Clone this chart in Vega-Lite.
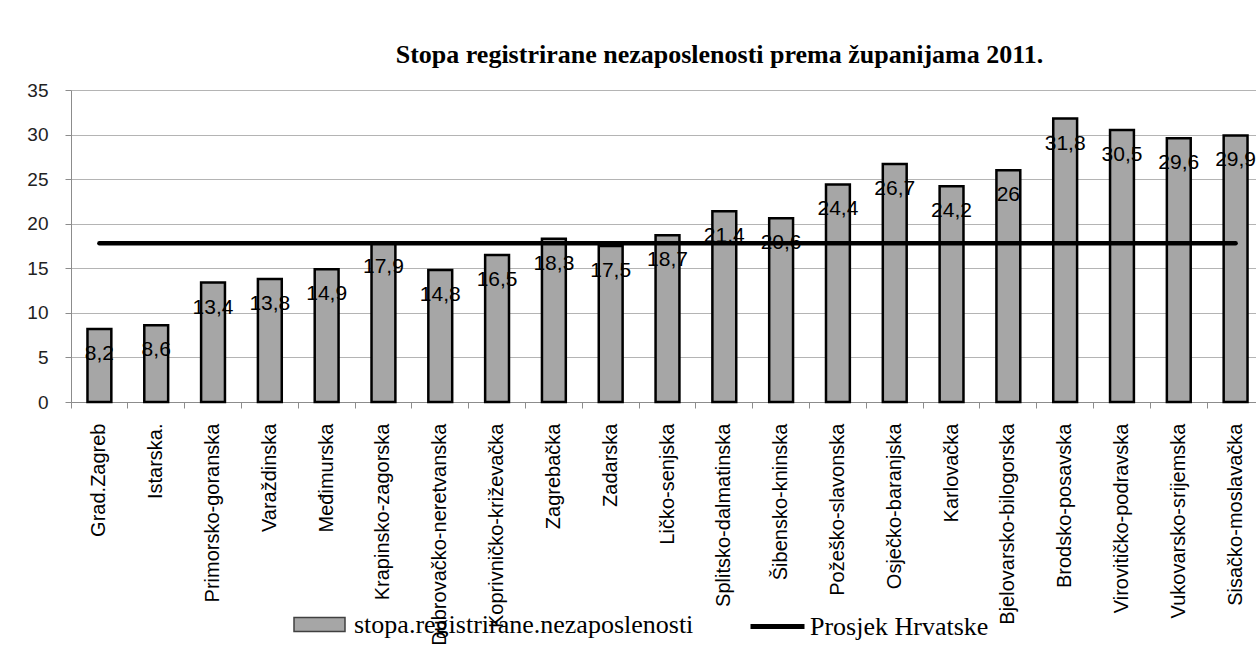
{
  "$schema": "https://vega.github.io/schema/vega-lite/v6.json",
  "autosize": "none",
  "width": 1185,
  "height": 312,
  "padding": {"left": 71, "top": 90, "right": 0, "bottom": 257},
  "background": "white",
  "title": {
    "text": "Stopa registrirane nezaposlenosti prema županijama 2011.",
    "font": "Liberation Serif",
    "fontWeight": "bold",
    "fontSize": 26,
    "color": "black",
    "anchor": "middle",
    "dx": 56,
    "offset": 13
  },
  "config": {
    "locale": {"number": {"decimal": ",", "thousands": ".", "grouping": [3], "currency": ["", " kn"]}},
    "view": {"stroke": null},
    "font": "Liberation Sans"
  },
  "data": {
    "values": [
      {"zupanija": "Grad.Zagreb", "stopa": 8.2, "prosjek": 17.8},
      {"zupanija": "Istarska.", "stopa": 8.6, "prosjek": 17.8},
      {"zupanija": "Primorsko-goranska", "stopa": 13.4, "prosjek": 17.8},
      {"zupanija": "Varaždinska", "stopa": 13.8, "prosjek": 17.8},
      {"zupanija": "Međimurska", "stopa": 14.9, "prosjek": 17.8},
      {"zupanija": "Krapinsko-zagorska", "stopa": 17.9, "prosjek": 17.8},
      {"zupanija": "Dubrovačko-neretvanska", "stopa": 14.8, "prosjek": 17.8},
      {"zupanija": "Koprivničko-križevačka", "stopa": 16.5, "prosjek": 17.8},
      {"zupanija": "Zagrebačka", "stopa": 18.3, "prosjek": 17.8},
      {"zupanija": "Zadarska", "stopa": 17.5, "prosjek": 17.8},
      {"zupanija": "Ličko-senjska", "stopa": 18.7, "prosjek": 17.8},
      {"zupanija": "Splitsko-dalmatinska", "stopa": 21.4, "prosjek": 17.8},
      {"zupanija": "Šibensko-kninska", "stopa": 20.6, "prosjek": 17.8},
      {"zupanija": "Požeško-slavonska", "stopa": 24.4, "prosjek": 17.8},
      {"zupanija": "Osječko-baranjska", "stopa": 26.7, "prosjek": 17.8},
      {"zupanija": "Karlovačka", "stopa": 24.2, "prosjek": 17.8},
      {"zupanija": "Bjelovarsko-bilogorska", "stopa": 26, "prosjek": 17.8},
      {"zupanija": "Brodsko-posavska", "stopa": 31.8, "prosjek": 17.8},
      {"zupanija": "Virovitičko-podravska", "stopa": 30.5, "prosjek": 17.8},
      {"zupanija": "Vukovarsko-srijemska", "stopa": 29.6, "prosjek": 17.8},
      {"zupanija": "Sisačko-moslavačka", "stopa": 29.9, "prosjek": 17.8}
    ]
  },
  "encoding": {
    "x": {
      "field": "zupanija",
      "type": "nominal",
      "sort": null,
      "scale": {"range": [0, 1193], "paddingInner": 0, "paddingOuter": 0},
      "axis": {
        "title": null,
        "labelAngle": 270,
        "labelFontSize": 20,
        "labelColor": "#000",
        "labelPadding": 15,
        "tickSize": 6,
        "tickColor": "#8c8c8c",
        "domainColor": "#8c8c8c",
        "bandPosition": 0,
        "labelLimit": 400,
        "grid": false
      }
    }
  },
  "layer": [
    {
      "mark": {"type": "bar", "width": {"band": 0.42}, "stroke": "black", "strokeWidth": 2.5},
      "encoding": {
        "y": {
          "field": "stopa",
          "type": "quantitative",
          "scale": {"domain": [0, 35], "nice": false},
          "axis": {
            "title": null,
            "values": [0, 5, 10, 15, 20, 25, 30, 35],
            "labelFontSize": 19,
            "labelColor": "#222",
            "labelPadding": 17,
            "tickSize": 6,
            "tickColor": "#8c8c8c",
            "domainColor": "#8c8c8c",
            "gridColor": "#b4b4b4",
            "gridWidth": 1.2
          }
        },
        "fill": {
          "datum": "stopa.registrirane.nezaposlenosti",
          "scale": {"range": ["#a6a6a6"]},
          "legend": {
            "title": null,
            "orient": "none",
            "legendX": 222,
            "legendY": 508,
            "padding": 0,
            "symbolType": "M-1,-0.275H1V0.275H-1Z",
            "symbolSize": 2601,
            "symbolStrokeColor": "#404040",
            "symbolStrokeWidth": 1.5,
            "labelFont": "Liberation Serif",
            "labelFontSize": 26,
            "labelColor": "black",
            "labelOffset": 8,
            "labelLimit": 600
          }
        }
      }
    },
    {
      "mark": {"type": "line", "strokeWidth": 4.5, "strokeCap": "round"},
      "encoding": {
        "y": {"field": "prosjek", "type": "quantitative"},
        "stroke": {
          "datum": "Prosjek Hrvatske",
          "scale": {"range": ["black"]},
          "legend": {
            "title": null,
            "orient": "none",
            "legendX": 677,
            "legendY": 507,
            "padding": 0,
            "symbolType": "stroke",
            "symbolSize": 2916,
            "symbolStrokeWidth": 5,
            "labelFont": "Liberation Serif",
            "labelFontSize": 26,
            "labelColor": "black",
            "labelOffset": 3,
            "labelLimit": 600
          }
        }
      }
    },
    {
      "mark": {"type": "text", "baseline": "middle", "dy": 25, "fontSize": 21, "color": "black"},
      "encoding": {
        "y": {"field": "stopa", "type": "quantitative"},
        "text": {"field": "stopa", "type": "quantitative", "format": "~g"}
      }
    }
  ]
}
